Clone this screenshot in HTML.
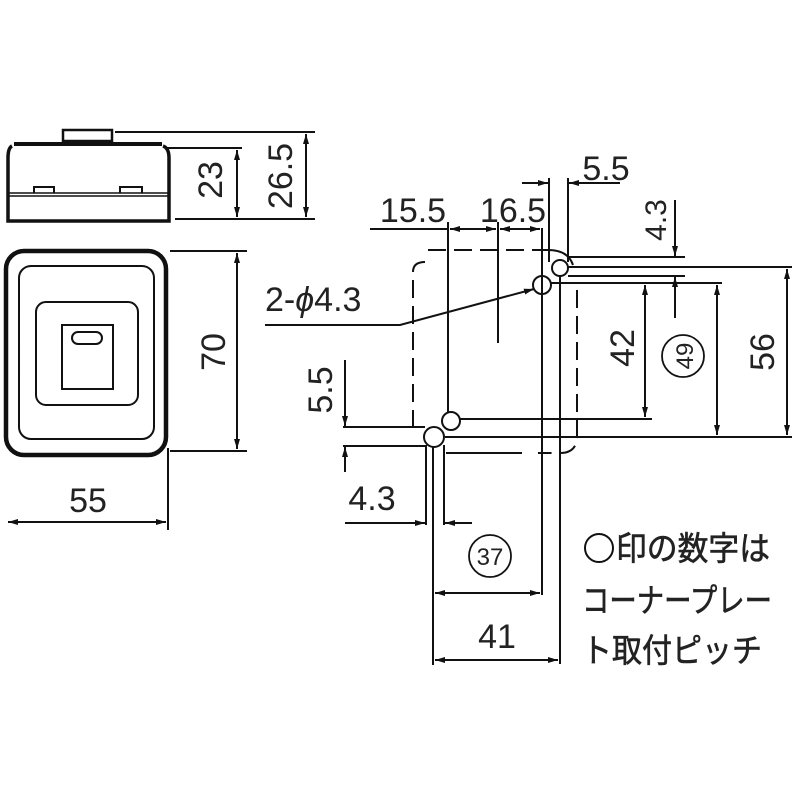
<!DOCTYPE html>
<html><head><meta charset="utf-8"><style>
html,body{margin:0;padding:0;background:#fff;}
svg{display:block;}
text{font-family:"Liberation Sans",sans-serif;fill:#222;}
.j{font-family:"Liberation Sans","Noto Sans CJK JP",sans-serif;}
</style></head><body>
<svg width="800" height="800" viewBox="0 0 800 800" xmlns="http://www.w3.org/2000/svg">
<defs>
<marker id="a" viewBox="0 0 10 6" refX="10" refY="3" markerWidth="10" markerHeight="6" markerUnits="userSpaceOnUse" orient="auto-start-reverse"><path d="M0,0 L10,3 L0,6 z" fill="#111"/></marker>
</defs>
<g stroke="#111" fill="none" stroke-width="2">
<rect x="63" y="130" width="49" height="11" stroke-width="2.5"/>
<path d="M14,144 L162,144" stroke-width="4"/>
<path d="M12,146 Q8,148 8,158 L8,221 L169,221 L169,158 Q169,148 163,146" stroke-width="3.5"/>
<line x1="9" y1="193" x2="168" y2="193" stroke-width="1.5"/>
<line x1="9" y1="196" x2="168" y2="196" stroke-width="1.5"/>
<path d="M34,193 L34,187 L54,187 L54,193 M120,193 L120,187 L142,187 L142,193" stroke-width="2"/>
<rect x="6" y="251" width="160" height="204" rx="18" stroke-width="4.5"/>
<rect x="19" y="266" width="135" height="173" rx="12"/>
<rect x="36" y="302" width="102" height="103" rx="10"/>
<rect x="62" y="325" width="51" height="64"/>
<rect x="72" y="332" width="30" height="12" rx="6"/>
<line x1="115" y1="132" x2="315" y2="132"/>
<line x1="165" y1="148" x2="242" y2="148"/>
<line x1="175" y1="219" x2="315" y2="219"/>
<line x1="237" y1="150" x2="237" y2="217" marker-start="url(#a)" marker-end="url(#a)"/>
<line x1="306" y1="134" x2="306" y2="217" marker-start="url(#a)" marker-end="url(#a)"/>
<line x1="170" y1="251" x2="247" y2="251"/>
<line x1="170" y1="451" x2="247" y2="451"/>
<line x1="237" y1="253" x2="237" y2="449" marker-start="url(#a)" marker-end="url(#a)"/>
<line x1="168" y1="448" x2="168" y2="530"/>
<line x1="8" y1="522" x2="166" y2="522" marker-start="url(#a)" marker-end="url(#a)"/>
<g stroke-dasharray="18,8">
<path d="M413,428 L413,272 Q413,262 425,262"/>
<path d="M428,250 L548,250"/>
<path d="M577,290 L577,436 Q577,453 560,453 L538,453"/>
</g>
<path d="M548,250 Q568,250 573,265" />
<circle cx="560" cy="268" r="8"/>
<circle cx="542" cy="285" r="9"/>
<circle cx="451" cy="421" r="9"/>
<circle cx="434" cy="437" r="10"/>
<line x1="448" y1="222" x2="448" y2="413"/>
<line x1="498" y1="222" x2="498" y2="343"/>
<line x1="542" y1="228" x2="542" y2="595"/>
<line x1="549" y1="178" x2="549" y2="262"/>
<line x1="568" y1="178" x2="568" y2="262"/>
<line x1="560" y1="276" x2="560" y2="664"/>
<line x1="426" y1="445" x2="426" y2="525"/>
<line x1="433" y1="447" x2="433" y2="665"/>
<line x1="444" y1="445" x2="444" y2="525"/>
<line x1="370" y1="229" x2="448" y2="229"/>
<line x1="450" y1="229" x2="496" y2="229" marker-start="url(#a)" marker-end="url(#a)"/>
<line x1="500" y1="229" x2="540" y2="229" marker-start="url(#a)" marker-end="url(#a)"/>
<line x1="522" y1="183" x2="548" y2="183" marker-end="url(#a)"/>
<line x1="620" y1="183" x2="569" y2="183" marker-end="url(#a)"/>
<line x1="568" y1="257" x2="685" y2="257"/>
<line x1="568" y1="267" x2="792" y2="267"/>
<line x1="568" y1="276" x2="685" y2="276"/>
<line x1="550" y1="283" x2="722" y2="283"/>
<line x1="460" y1="419" x2="652" y2="419"/>
<line x1="445" y1="437" x2="792" y2="437"/>
<line x1="446" y1="453" x2="522" y2="453"/>
<line x1="675" y1="200" x2="675" y2="256" marker-end="url(#a)"/>
<line x1="675" y1="318" x2="675" y2="277" marker-end="url(#a)"/>
<line x1="645" y1="285" x2="645" y2="417" marker-start="url(#a)" marker-end="url(#a)"/>
<line x1="717" y1="285" x2="717" y2="435" marker-start="url(#a)" marker-end="url(#a)"/>
<line x1="787" y1="269" x2="787" y2="435" marker-start="url(#a)" marker-end="url(#a)"/>
<circle cx="683" cy="356" r="21" stroke-width="1.8"/>
<line x1="343" y1="427" x2="425" y2="427"/>
<line x1="343" y1="446" x2="425" y2="446"/>
<line x1="345" y1="360" x2="345" y2="426" marker-end="url(#a)"/>
<line x1="345" y1="472" x2="345" y2="447" marker-end="url(#a)"/>
<line x1="345" y1="523" x2="425" y2="523" marker-end="url(#a)"/>
<line x1="472" y1="523" x2="445" y2="523" marker-end="url(#a)"/>
<path d="M265,325 L400,325 L534,289" marker-end="url(#a)"/>
<line x1="435" y1="593" x2="540" y2="593" marker-start="url(#a)" marker-end="url(#a)"/>
<circle cx="490" cy="556" r="21" stroke-width="1.8"/>
<line x1="435" y1="660" x2="558" y2="660" marker-start="url(#a)" marker-end="url(#a)"/>
<circle cx="599" cy="548" r="14" stroke-width="2"/>
</g>
<g font-size="34">
<text transform="translate(222,180) rotate(-90)" text-anchor="middle">23</text>
<text transform="translate(292,176) rotate(-90)" text-anchor="middle">26.5</text>
<text transform="translate(225,352) rotate(-90)" text-anchor="middle">70</text>
<text x="88" y="512" text-anchor="middle">55</text>
<text x="265" y="311">2-<tspan font-style="italic">ϕ</tspan>4.3</text>
<text x="413" y="222" text-anchor="middle">15.5</text>
<text x="513" y="222" text-anchor="middle">16.5</text>
<text x="606" y="180" text-anchor="middle">5.5</text>
<text transform="translate(666,220) rotate(-90)" text-anchor="middle" font-size="30">4.3</text>
<text transform="translate(634,348) rotate(-90)" text-anchor="middle">42</text>
<text transform="translate(693,356) rotate(-90)" text-anchor="middle" font-size="24">49</text>
<text transform="translate(774,352) rotate(-90)" text-anchor="middle">56</text>
<text transform="translate(332,390) rotate(-90)" text-anchor="middle">5.5</text>
<text x="372" y="510" text-anchor="middle">4.3</text>
<text x="490" y="565" text-anchor="middle" font-size="24">37</text>
<text x="497" y="648" text-anchor="middle">41</text>
</g>
<g font-size="33" font-weight="bold">
<text class="j" x="616" y="560" textLength="154" lengthAdjust="spacingAndGlyphs" font-weight="normal" stroke="#222" stroke-width="0.6">印の数字は</text>
<text class="j" x="582" y="612" textLength="190" lengthAdjust="spacingAndGlyphs" font-weight="normal" stroke="#222" stroke-width="0.6">コーナープレー</text>
<text class="j" x="582" y="662" textLength="180" lengthAdjust="spacingAndGlyphs" font-weight="normal" stroke="#222" stroke-width="0.6">ト取付ピッチ</text>
</g>
</svg>
</body></html>
